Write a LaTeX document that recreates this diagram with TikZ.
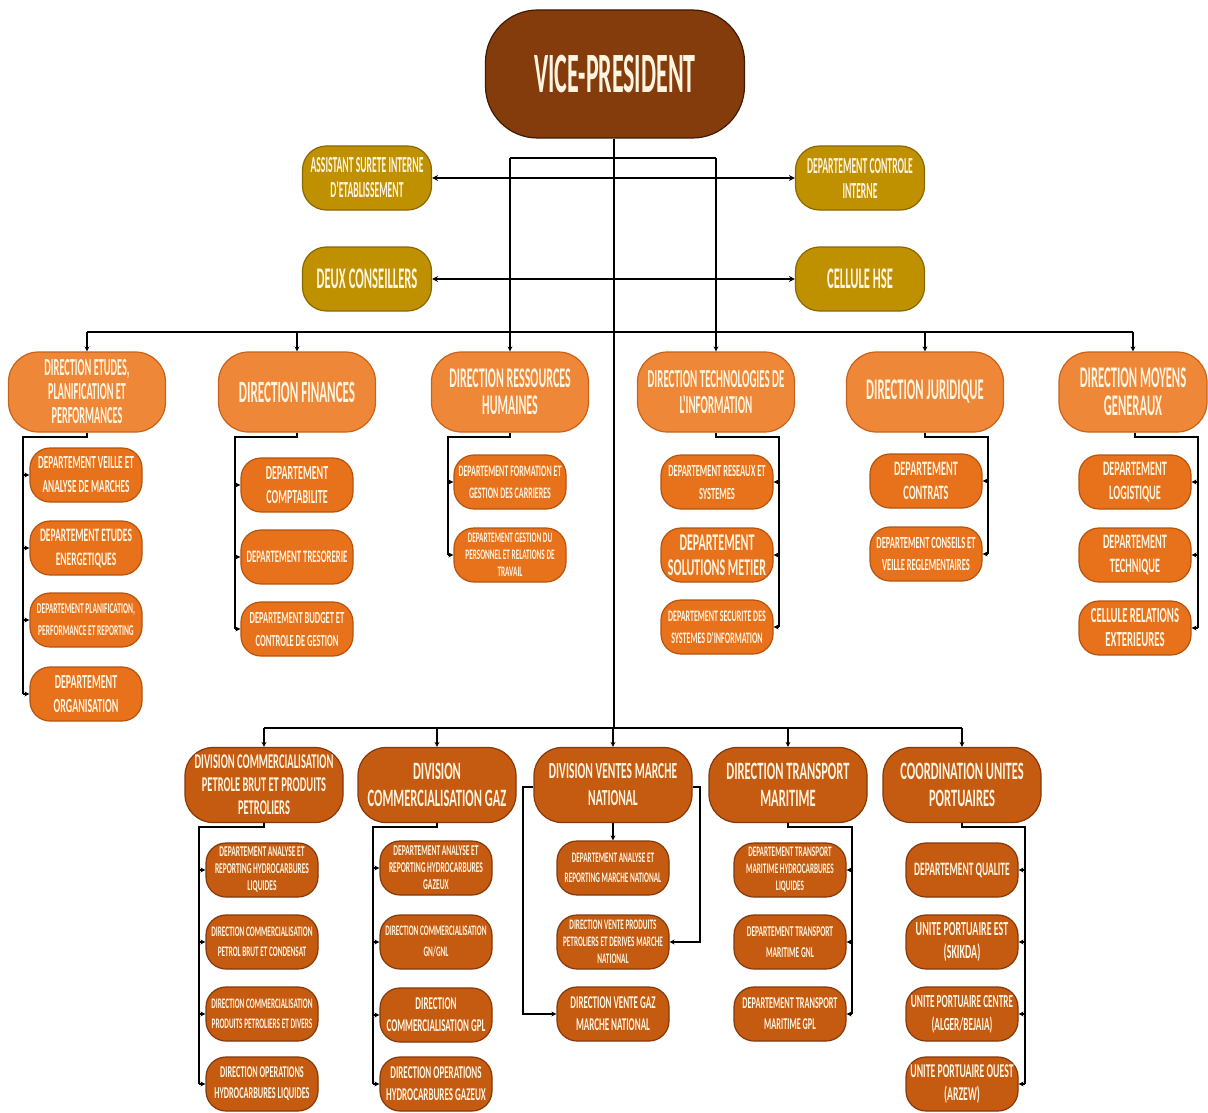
\documentclass[tikz,border=0pt]{standalone}
\usepackage{fontspec}
\newfontfamily\fA{Carlito}[FakeStretch=0.42]
\newfontfamily\fB{Carlito}[FakeStretch=0.5]
\usetikzlibrary{arrows.meta}
\newcommand\fz[2]{\fontsize{#1}{#2}\selectfont}
\definecolor{vpc}{HTML}{843C0C}
\definecolor{vpd}{HTML}{3F1A04}
\definecolor{goldc}{HTML}{BF9000}
\definecolor{goldd}{HTML}{8A6800}
\definecolor{dirc}{HTML}{EF8738}
\definecolor{dird}{HTML}{C9621A}
\definecolor{depc}{HTML}{E8711C}
\definecolor{depd}{HTML}{B4540E}
\definecolor{divc}{HTML}{C55A11}
\definecolor{divd}{HTML}{85380A}
\definecolor{txt}{HTML}{FFF5E0}
\begin{document}
\begin{tikzpicture}[x=1pt,y=-1pt,
  base/.style={rectangle, align=center, inner sep=0pt, text=txt, line width=1.2pt},
  vpbox/.style={base, fill=vpc, draw=vpd, minimum width=259pt, minimum height=128pt, rounded corners=52pt},
  goldbox/.style={base, fill=goldc, draw=goldd, minimum width=129pt, minimum height=64pt, rounded corners=24pt},
  dirbox/.style={base, fill=dirc, draw=dird, minimum width=157pt, minimum height=80pt, rounded corners=30pt},
  depbox/.style={base, fill=depc, draw=depd, minimum width=112pt, minimum height=54pt, rounded corners=20pt},
  divbox/.style={base, fill=divc, draw=divd, minimum width=158pt, minimum height=75pt, rounded corners=28pt},
  subbox/.style={base, fill=divc, draw=divd, minimum width=112pt, minimum height=54pt, rounded corners=20pt},
  ln/.style={line width=1.7pt, black},
  arr/.style={ln, -{Stealth[length=5pt,width=5pt]}},
  darr/.style={ln, {Stealth[length=6pt,width=6pt]}-{Stealth[length=6pt,width=6pt]}}
]
\useasboundingbox[fill=white] (0,0) rectangle (1208,1113);

% top
\node[vpbox, font=\fA\bfseries\fz{57}{60}] (vp) at (615,74) {VICE-PRESIDENT};
\node[goldbox, font=\fA\bfseries\fz{23}{25}] (g1) at (367,178) {ASSISTANT SURETE INTERNE\\D'ETABLISSEMENT};
\node[goldbox, font=\fA\bfseries\fz{23}{25}] (g2) at (860,178) {DEPARTEMENT CONTROLE\\INTERNE};
\node[goldbox, font=\fA\bfseries\fz{30}{32}] (g3) at (367,279) {DEUX CONSEILLERS};
\node[goldbox, font=\fA\bfseries\fz{30}{32}] (g4) at (860,279) {CELLULE HSE};

% level 2 directions
\node[dirbox, font=\fA\bfseries\fz{24.5}{24}] (d1) at (87,392) {DIRECTION ETUDES,\\PLANIFICATION ET\\PERFORMANCES};
\node[dirbox, font=\fA\bfseries\fz{31}{32}] (d2) at (297,392) {DIRECTION FINANCES};
\node[dirbox, font=\fA\bfseries\fz{28.5}{27}] (d3) at (510,392) {DIRECTION RESSOURCES\\HUMAINES};
\node[dirbox, font=\fA\bfseries\fz{26}{26}] (d4) at (716,392) {DIRECTION TECHNOLOGIES DE\\L'INFORMATION};
\node[dirbox, font=\fA\bfseries\fz{30}{30}] (d5) at (925,392) {DIRECTION JURIDIQUE};
\node[dirbox, minimum width=148pt, font=\fA\bfseries\fz{30}{28}] (d6) at (1133,392) {DIRECTION MOYENS\\GENERAUX};

% level 2 departments
\node[depbox, font=\fB\bfseries\fz{18.5}{24}] (c11) at (86,475) {DEPARTEMENT VEILLE ET\\ANALYSE DE MARCHES};
\node[depbox, font=\fB\bfseries\fz{19}{24}] (c12) at (86,548) {DEPARTEMENT ETUDES\\ENERGETIQUES};
\node[depbox, font=\fB\bfseries\fz{15}{22}] (c13) at (86,620) {DEPARTEMENT PLANIFICATION,\\PERFORMANCE ET REPORTING};
\node[depbox, font=\fB\bfseries\fz{20}{24}] (c14) at (86,694) {DEPARTEMENT\\ORGANISATION};

\node[depbox, font=\fB\bfseries\fz{20}{24}] (c21) at (297,485) {DEPARTEMENT\\COMPTABILITE};
\node[depbox, font=\fB\bfseries\fz{17.5}{22}] (c22) at (297,557) {DEPARTEMENT TRESORERIE};
\node[depbox, font=\fB\bfseries\fz{17}{23}] (c23) at (297,629) {DEPARTEMENT BUDGET ET\\CONTROLE DE GESTION};

\node[depbox, font=\fB\bfseries\fz{16}{22}] (c31) at (510,482) {DEPARTEMENT FORMATION ET\\GESTION DES CARRIERES};
\node[depbox, font=\fB\bfseries\fz{14.5}{17}] (c32) at (510,555) {DEPARTEMENT GESTION DU\\PERSONNEL ET RELATIONS DE\\TRAVAIL};

\node[depbox, font=\fB\bfseries\fz{17}{23}] (c41) at (717,482) {DEPARTEMENT RESEAUX ET\\SYSTEMES};
\node[depbox, font=\fB\bfseries\fz{24}{25}] (c42) at (717,555) {DEPARTEMENT\\SOLUTIONS METIER};
\node[depbox, font=\fB\bfseries\fz{16}{22}] (c43) at (717,627) {DEPARTEMENT SECURITE DES\\SYSTEMES D'INFORMATION};

\node[depbox, font=\fB\bfseries\fz{20.5}{24}] (c51) at (926,481) {DEPARTEMENT\\CONTRATS};
\node[depbox, font=\fB\bfseries\fz{17}{22}] (c52) at (926,554) {DEPARTEMENT CONSEILS ET\\VEILLE REGLEMENTAIRES};

\node[depbox, font=\fB\bfseries\fz{20.5}{24}] (c61) at (1135,482) {DEPARTEMENT\\LOGISTIQUE};
\node[depbox, font=\fB\bfseries\fz{20.5}{24}] (c62) at (1135,555) {DEPARTEMENT\\TECHNIQUE};
\node[depbox, font=\fB\bfseries\fz{21.5}{24}] (c63) at (1135,628) {CELLULE RELATIONS\\EXTERIEURES};

% level 3 divisions
\node[divbox, font=\fB\bfseries\fz{21}{23}] (e1) at (264,785) {DIVISION COMMERCIALISATION\\PETROLE BRUT ET PRODUITS\\PETROLIERS};
\node[divbox, font=\fB\bfseries\fz{25}{27}] (e2) at (437,785) {DIVISION\\COMMERCIALISATION GAZ};
\node[divbox, font=\fB\bfseries\fz{23}{27}] (e3) at (613,785) {DIVISION VENTES MARCHE\\NATIONAL};
\node[divbox, font=\fB\bfseries\fz{25}{27}] (e4) at (788,785) {DIRECTION TRANSPORT\\MARITIME};
\node[divbox, font=\fB\bfseries\fz{25}{27}] (e5) at (962,785) {COORDINATION UNITES\\PORTUAIRES};

% level 3 sub units
\node[subbox, font=\fB\bfseries\fz{15}{17}] (f11) at (262,870) {DEPARTEMENT ANALYSE ET\\REPORTING HYDROCARBURES\\LIQUIDES};
\node[subbox, font=\fB\bfseries\fz{14.5}{20}] (f12) at (262,942) {DIRECTION COMMERCIALISATION\\PETROL BRUT ET CONDENSAT};
\node[subbox, font=\fB\bfseries\fz{14.5}{20}] (f13) at (262,1014) {DIRECTION COMMERCIALISATION\\PRODUITS PETROLIERS ET DIVERS};
\node[subbox, font=\fB\bfseries\fz{16.5}{21}] (f14) at (262,1084) {DIRECTION OPERATIONS\\HYDROCARBURES LIQUIDES};

\node[subbox, font=\fB\bfseries\fz{15}{17}] (f21) at (436,868) {DEPARTEMENT ANALYSE ET\\REPORTING HYDROCARBURES\\GAZEUX};
\node[subbox, font=\fB\bfseries\fz{14.5}{21}] (f22) at (436,942) {DIRECTION COMMERCIALISATION\\GN/GNL};
\node[subbox, font=\fB\bfseries\fz{18}{22}] (f23) at (436,1015) {DIRECTION\\COMMERCIALISATION GPL};
\node[subbox, font=\fB\bfseries\fz{18}{22}] (f24) at (436,1084) {DIRECTION OPERATIONS\\HYDROCARBURES GAZEUX};

\node[subbox, font=\fB\bfseries\fz{14.5}{20}] (f31) at (613,868) {DEPARTEMENT ANALYSE ET\\REPORTING MARCHE NATIONAL};
\node[subbox, font=\fB\bfseries\fz{14.5}{17}] (f32) at (613,942) {DIRECTION VENTE PRODUITS\\PETROLIERS ET DERIVES MARCHE\\NATIONAL};
\node[subbox, font=\fB\bfseries\fz{18}{22}] (f33) at (613,1014) {DIRECTION VENTE GAZ\\MARCHE NATIONAL};

\node[subbox, font=\fB\bfseries\fz{14.5}{17}] (f41) at (790,870) {DEPARTEMENT TRANSPORT\\MARITIME HYDROCARBURES\\LIQUIDES};
\node[subbox, font=\fB\bfseries\fz{15}{21}] (f42) at (790,942) {DEPARTEMENT TRANSPORT\\MARITIME GNL};
\node[subbox, font=\fB\bfseries\fz{16.5}{21}] (f43) at (790,1014) {DEPARTEMENT TRANSPORT\\MARITIME GPL};

\node[subbox, font=\fB\bfseries\fz{19}{22}] (f51) at (962,870) {DEPARTEMENT QUALITE};
\node[subbox, font=\fB\bfseries\fz{20}{23}] (f52) at (962,942) {UNITE PORTUAIRE EST\\(SKIKDA)};
\node[subbox, font=\fB\bfseries\fz{18.5}{23}] (f53) at (962,1014) {UNITE PORTUAIRE CENTRE\\(ALGER/BEJAIA)};
\node[subbox, font=\fB\bfseries\fz{19.5}{23}] (f54) at (962,1084) {UNITE PORTUAIRE OUEST\\(ARZEW)};

% ---------- connectors ----------
\coordinate (busL) at (87,332);
\coordinate (busR) at (1135,332);
\coordinate (rl) at (510,158);
\coordinate (rr) at (716,158);
\coordinate (lb) at (614,728);

\draw[ln] (vp.south -| lb) -- (lb);
\draw[ln] (rl) -- (rr);
\draw[ln] (rl) -- (rl |- busL);
\draw[ln] (rr) -- (rr |- busL);
\draw[darr] (g1.east) -- (g2.west);
\draw[darr] (g3.east) -- (g4.west);
\draw[ln] (d1.north |- busL) -- (d6.north |- busL);
\foreach \n in {d1,d2,d3,d4,d5,d6} \draw[arr] (\n.north |- busL) -- (\n.north);

\draw[ln] (e1.north |- lb) -- (e5.north |- lb);
\foreach \n in {e1,e2,e3,e4,e5} \draw[arr] (\n.north |- lb) -- (\n.north);

% level 2 trunks
\coordinate (k1) at (23,437);
\draw[ln] (d1.south) |- (k1) -- (k1 |- c14.west);
\foreach \n in {c11,c12,c13,c14} \draw[arr] (k1 |- \n.west) -- (\n.west);
\coordinate (k2) at (235,437);
\draw[ln] (d2.south) |- (k2) -- (k2 |- c23.west);
\foreach \n in {c21,c22,c23} \draw[arr] (k2 |- \n.west) -- (\n.west);
\coordinate (k3) at (448,437);
\draw[ln] (d3.south) |- (k3) -- (k3 |- c32.west);
\foreach \n in {c31,c32} \draw[arr] (k3 |- \n.west) -- (\n.west);
\coordinate (k4) at (779,437);
\draw[ln] (d4.south) |- (k4) -- (k4 |- c43.east);
\foreach \n in {c41,c42,c43} \draw[arr] (k4 |- \n.east) -- (\n.east);
\coordinate (k5) at (988,437);
\draw[ln] (d5.south) |- (k5) -- (k5 |- c52.east);
\foreach \n in {c51,c52} \draw[arr] (k5 |- \n.east) -- (\n.east);
\coordinate (k6) at (1198,437);
\draw[ln] (d6.south -| c61) |- (k6) -- (k6 |- c63.east);
\foreach \n in {c61,c62,c63} \draw[arr] (k6 |- \n.east) -- (\n.east);

% level 3 trunks
\coordinate (m1) at (199,827);
\draw[ln] (e1.south) |- (m1) -- (m1 |- f14.west);
\foreach \n in {f11,f12,f13,f14} \draw[arr] (m1 |- \n.west) -- (\n.west);
\coordinate (m2) at (373,827);
\draw[ln] (e2.south) |- (m2) -- (m2 |- f24.west);
\foreach \n in {f21,f22,f23,f24} \draw[arr] (m2 |- \n.west) -- (\n.west);
\draw[arr] (e3.south) -- (f31.north);
\coordinate (vl) at (523,787);
\coordinate (vr) at (700,787);
\draw[arr] (e3.west |- vl) -- (vl) |- (f33.west);
\draw[arr] (e3.east |- vr) -- (vr) |- (f32.east);
\coordinate (m4) at (852,827);
\draw[ln] (e4.south) |- (m4) -- (m4 |- f43.east);
\foreach \n in {f41,f42,f43} \draw[arr] (m4 |- \n.east) -- (\n.east);
\coordinate (m5) at (1025,827);
\draw[ln] (e5.south) |- (m5) -- (m5 |- f54.east);
\foreach \n in {f51,f52,f53,f54} \draw[arr] (m5 |- \n.east) -- (\n.east);
\end{tikzpicture}
\end{document}
